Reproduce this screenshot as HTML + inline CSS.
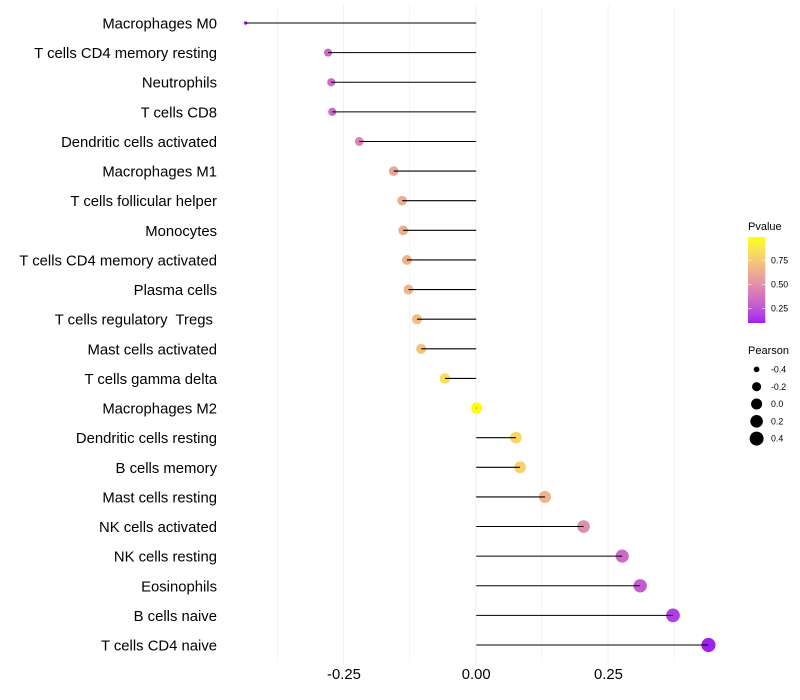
<!DOCTYPE html>
<html lang="en">
<head>
<meta charset="utf-8">
<title>Lollipop chart</title>
<style>
html,body{margin:0;padding:0;background:#fff;}
svg{display:block;}
text{font-family:"Liberation Sans",sans-serif;white-space:pre;}
</style>
</head>
<body>
<svg id="chart" xmlns="http://www.w3.org/2000/svg" width="800" height="700" viewBox="0 0 800 700">
  <rect width="800" height="700" fill="#ffffff"/>
  <g id="grid"></g>
  <g id="marks"></g>
  <g id="ylabels"></g>
  <g id="xlabels"></g>
  <g id="plegend"></g>
  <g id="slegend"></g>
</svg>
<script>
const categories = ["Macrophages M0","T cells CD4 memory resting","Neutrophils","T cells CD8","Dendritic cells activated","Macrophages M1","T cells follicular helper","Monocytes","T cells CD4 memory activated","Plasma cells","T cells regulatory  Tregs ","Mast cells activated","T cells gamma delta","Macrophages M2","Dendritic cells resting","B cells memory","Mast cells resting","NK cells activated","NK cells resting","Eosinophils","B cells naive","T cells CD4 naive"];
const pearson = [-0.436,-0.280,-0.274,-0.272,-0.221,-0.156,-0.140,-0.138,-0.131,-0.128,-0.112,-0.104,-0.059,0.001,0.075,0.083,0.130,0.203,0.276,0.310,0.372,0.439];
const pvalues = [0.10,0.33,0.34,0.34,0.45,0.59,0.63,0.63,0.65,0.66,0.70,0.72,0.85,0.99,0.81,0.79,0.66,0.49,0.34,0.28,0.18,0.10];
const xTicks = [-0.25,0,0.25];
const xTickLabels = ["-0.25","0.00","0.25"];
const xMinorTicks = [-0.375,-0.125,0.125,0.375];
const pLegendTicks = [0.25,0.5,0.75];
const pLegendLabels = ["0.25","0.50","0.75"];
const sizeLegendValues = [-0.4,-0.2,0,0.2,0.4];
const sizeLegendLabels = ["-0.4","-0.2","0.0","0.2","0.4"];

const NS = "http://www.w3.org/2000/svg";
function make(tag, attrs, parent, text) {
  const el = document.createElementNS(NS, tag);
  for (const k in attrs) el.setAttribute(k, attrs[k]);
  if (text !== undefined) el.textContent = text;
  parent.appendChild(el);
  return el;
}

/* axis functions */
function xScale(v) { return 476.2 + v * 529; }
function yScale(i) { return 23 + i * (622 / (categories.length - 1)); }
const PANEL_TOP = 5, PANEL_BOTTOM = 662, TICK_BOTTOM = 665;

/* size scale (area-style) */
const sizeMin = Math.min.apply(null, pearson), sizeMax = Math.max.apply(null, pearson);
function rScale(v) {
  const t = Math.max(0, Math.min(1, (v - sizeMin) / (sizeMax - sizeMin)));
  return 1.8 + 5.3 * Math.sqrt(t);
}

/* colour scale: Lab interpolation, purple to yellow */
function s2l(c) { c /= 255; return c <= 0.04045 ? c / 12.92 : Math.pow((c + 0.055) / 1.055, 2.4); }
function l2s(c) { const v = c <= 0.0031308 ? 12.92 * c : 1.055 * Math.pow(c, 1 / 2.4) - 0.055; return Math.round(Math.max(0, Math.min(1, v)) * 255); }
function rgb2lab(r, g, b) {
  const R = s2l(r), G = s2l(g), B = s2l(b);
  const f = t => t > 0.008856 ? Math.cbrt(t) : 7.787 * t + 16 / 116;
  const X = f((0.4124 * R + 0.3576 * G + 0.1805 * B) / 0.95047);
  const Y = f(0.2126 * R + 0.7152 * G + 0.0722 * B);
  const Z = f((0.0193 * R + 0.1192 * G + 0.9505 * B) / 1.08883);
  return [116 * Y - 16, 500 * (X - Y), 200 * (Y - Z)];
}
function lab2rgb(L, a, b) {
  const fy = (L + 16) / 116, fx = fy + a / 500, fz = fy - b / 200;
  const g = t => t * t * t > 0.008856 ? t * t * t : (t - 16 / 116) / 7.787;
  const X = g(fx) * 0.95047, Y = g(fy), Z = g(fz) * 1.08883;
  return "rgb(" + l2s(3.2406 * X - 1.5372 * Y - 0.4986 * Z) + "," + l2s(-0.9689 * X + 1.8758 * Y + 0.0415 * Z) + "," + l2s(0.0557 * X - 0.2040 * Y + 1.0570 * Z) + ")";
}
const LOW = rgb2lab(160, 32, 240), HIGH = rgb2lab(255, 255, 0);
const P_MIN = 0.10, P_MAX = 0.99;
function colorScale(p) {
  const t = Math.max(0, Math.min(1, (p - P_MIN) / (P_MAX - P_MIN)));
  return lab2rgb(LOW[0] + (HIGH[0] - LOW[0]) * t, LOW[1] + (HIGH[1] - LOW[1]) * t, LOW[2] + (HIGH[2] - LOW[2]) * t);
}

/* grid */
const grid = document.getElementById("grid");
xMinorTicks.forEach(function (v) {
  const l = make("line", {x1: xScale(v) - 0.4, x2: xScale(v) - 0.4, y1: PANEL_TOP, y2: PANEL_BOTTOM, stroke: "#eeeeee", "stroke-width": 0.6}, grid);
  
  
});
xTicks.forEach(function (v) {
  const l = make("line", {x1: xScale(v) - 0.4, x2: xScale(v) - 0.4, y1: PANEL_TOP, y2: TICK_BOTTOM, stroke: "#f0f0f0", "stroke-width": 1.07}, grid);
  
  
});

/* marks: dots first, stems on top */
const marks = document.getElementById("marks");
categories.forEach(function (name, i) {
  const dot = make("circle", {cx: xScale(pearson[i]), cy: yScale(i), r: rScale(pearson[i]), fill: colorScale(pvalues[i])}, marks);
  
  
  const stem = make("line", {x1: xScale(0), x2: xScale(pearson[i]), y1: yScale(i), y2: yScale(i), stroke: "#000000", "stroke-width": 1.07}, marks);
  
  
});

/* y labels */
const yl = document.getElementById("ylabels");
categories.forEach(function (name, i) {
  const t = make("text", {x: 217, y: yScale(i) + 5.5, "text-anchor": "end", "font-size": 14.85, fill: "#000000"}, yl, name);
  
  
});

/* x labels */
const xl = document.getElementById("xlabels");
xTicks.forEach(function (v, i) {
  const t = make("text", {x: xScale(v), y: 679, "text-anchor": "middle", "font-size": 14.85, fill: "#000000"}, xl, xTickLabels[i]);
  
  
});

/* p-value legend */
const pl = document.getElementById("plegend");
const pTitle = make("text", {x: 748, y: 230, "font-size": 11, fill: "#000000"}, pl, "Pvalue");


const defs = make("defs", {}, pl);
const grad = make("linearGradient", {id: "pgrad", x1: 0, y1: 1, x2: 0, y2: 0}, defs);
for (let k = 0; k <= 20; k++) {
  make("stop", {offset: k / 20, "stop-color": colorScale(P_MIN + (P_MAX - P_MIN) * k / 20)}, grad);
}
const BAR_TOP = 237, BAR_BOTTOM = 323, BAR_X = 748, BAR_W = 17.3;
function legendY(p) { return BAR_BOTTOM - (p - P_MIN) / (P_MAX - P_MIN) * (BAR_BOTTOM - BAR_TOP); }
const bar = make("rect", {x: BAR_X, y: BAR_TOP, width: BAR_W, height: BAR_BOTTOM - BAR_TOP, fill: "url(#pgrad)"}, pl);


pLegendTicks.forEach(function (p, i) {
  const y = legendY(p);
  const a = make("line", {x1: BAR_X, x2: BAR_X + 3.4, y1: y, y2: y, stroke: "#ffffff", "stroke-width": 0.6}, pl);
  
  
  const b = make("line", {x1: BAR_X + BAR_W - 3.4, x2: BAR_X + BAR_W, y1: y, y2: y, stroke: "#ffffff", "stroke-width": 0.6}, pl);
  
  
  const t = make("text", {x: 771, y: y + 3.1, "font-size": 8.8, fill: "#000000"}, pl, pLegendLabels[i]);
  
  
});

/* size legend */
const sl = document.getElementById("slegend");
const sTitle = make("text", {x: 748, y: 354, "font-size": 11, fill: "#000000"}, sl, "Pearson");


sizeLegendValues.forEach(function (v, i) {
  const y = 369.4 + i * 17.3;
  const c = make("circle", {cx: 756.6, cy: y, r: rScale(v), fill: "#000000"}, sl);
  
  
  const t = make("text", {x: 771, y: y + 3.1, "font-size": 8.8, fill: "#000000"}, sl, sizeLegendLabels[i]);
  
  
});
</script>
</body>
</html>
